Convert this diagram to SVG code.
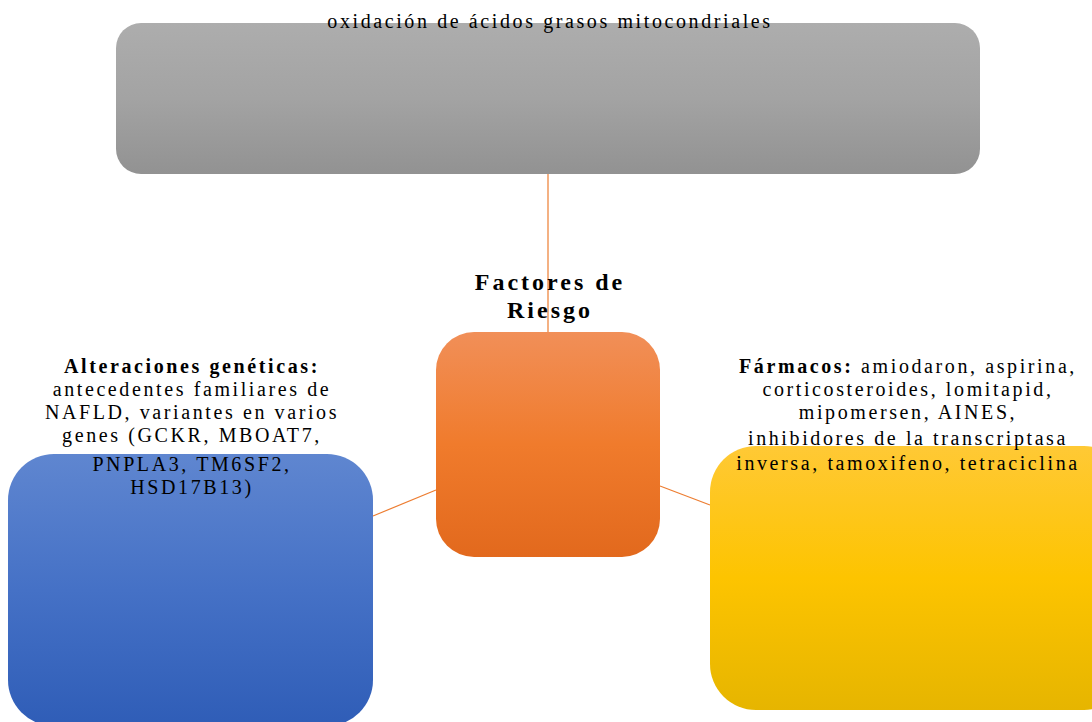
<svg xmlns="http://www.w3.org/2000/svg" width="1092" height="722" viewBox="0 0 1092 722">
<defs>
<linearGradient id="gGray" x1="0" y1="0" x2="0" y2="1"><stop offset="0" stop-color="#adadad"/><stop offset="0.5" stop-color="#a3a3a3"/><stop offset="1" stop-color="#929292"/></linearGradient>
<linearGradient id="gOrange" x1="0" y1="0" x2="0" y2="1"><stop offset="0" stop-color="#f18f58"/><stop offset="0.5" stop-color="#f07b2c"/><stop offset="1" stop-color="#e2691d"/></linearGradient>
<linearGradient id="gBlue" x1="0" y1="0" x2="0" y2="1"><stop offset="0" stop-color="#5f86d0"/><stop offset="0.5" stop-color="#4571c6"/><stop offset="1" stop-color="#2f5db7"/></linearGradient>
<linearGradient id="gYellow" x1="0" y1="0" x2="0" y2="1"><stop offset="0" stop-color="#ffc935"/><stop offset="0.5" stop-color="#fdc400"/><stop offset="1" stop-color="#e6b500"/></linearGradient>
</defs>
<style>
text{font-family:"Liberation Serif","Times New Roman",serif;fill:#000;text-anchor:middle}
.t{font-size:20px;letter-spacing:2.6px}
.h{font-size:24px;font-weight:bold;letter-spacing:3px}
.b{font-weight:bold}
.c{stroke:#ED7D31;stroke-width:1.2;fill:none}
</style>
<g id="connectors">
<line class="c" x1="548" y1="174" x2="548" y2="332"/>
<line class="c" x1="436" y1="490" x2="373" y2="516"/>
<line class="c" x1="660" y1="486" x2="710" y2="505"/>
</g>
<g id="node-top">
<rect x="116" y="23" width="864" height="151" rx="25" fill="url(#gGray)"/>
<text class="t" x="550" y="28">oxidación de ácidos grasos mitocondriales</text>
</g>
<g id="node-center">
<rect x="436" y="332" width="224" height="225" rx="38" fill="url(#gOrange)"/>
<text class="h" x="550" y="290">Factores de</text>
<text class="h" x="550" y="318">Riesgo</text>
</g>
<g id="node-left">
<rect x="8" y="454" width="365" height="272" rx="46" fill="url(#gBlue)"/>
<text class="t" x="192" y="373"><tspan class="b">Alteraciones genéticas:</tspan></text>
<text class="t" x="192" y="396">antecedentes familiares de</text>
<text class="t" x="192" y="419">NAFLD, variantes en varios</text>
<text class="t" x="192" y="442">genes (GCKR, MBOAT7,</text>
<text class="t" x="192" y="471">PNPLA3, TM6SF2,</text>
<text class="t" x="192" y="494">HSD17B13)</text>
</g>
<g id="node-right">
<rect x="710" y="446" width="420" height="264" rx="46" fill="url(#gYellow)"/>
<text class="t" x="908" y="373"><tspan class="b">Fármacos:</tspan> amiodaron, aspirina,</text>
<text class="t" x="908" y="396">corticosteroides, lomitapid,</text>
<text class="t" x="908" y="419">mipomersen, AINES,</text>
<text class="t" x="908" y="445">inhibidores de la transcriptasa</text>
<text class="t" x="908" y="470">inversa, tamoxifeno, tetraciclina</text>
</g>
</svg>
